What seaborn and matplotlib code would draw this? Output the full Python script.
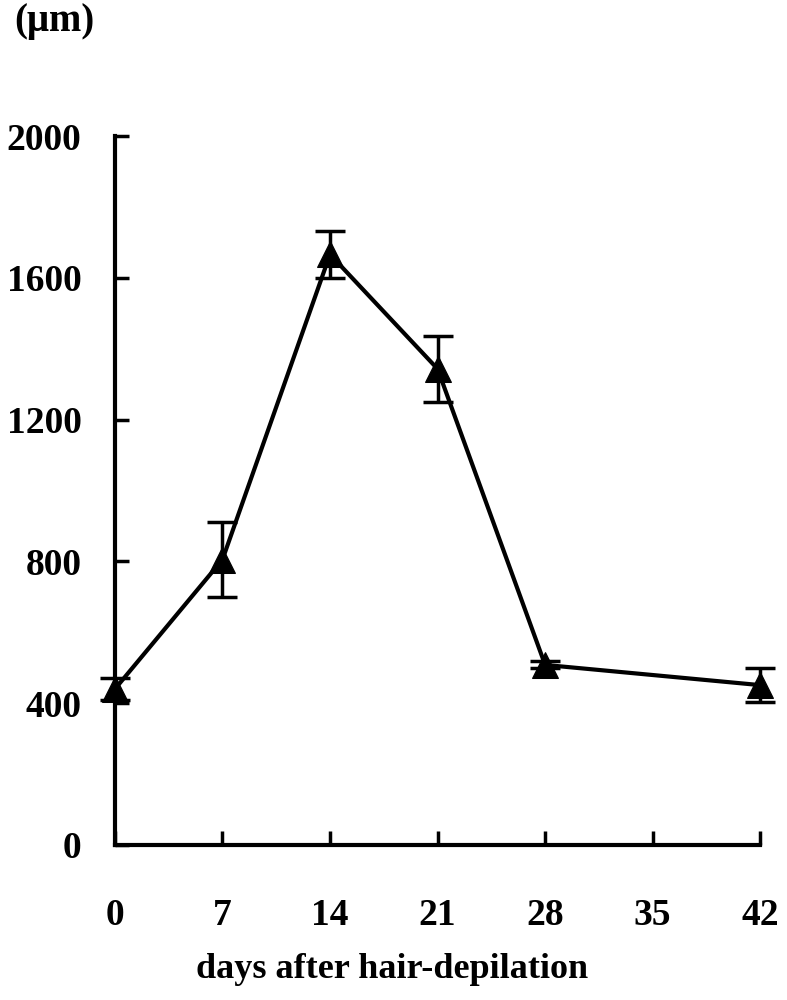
import matplotlib
matplotlib.use("Agg")
import matplotlib.pyplot as plt
import seaborn as sns
import pandas as pd

days = [0, 7, 14, 21, 28, 42]
length_um = [440, 805, 1666, 1343, 508, 451]
err_um = [30, 106, 66, 93, 10, 48]
x_ticks = [0, 7, 14, 21, 28, 35, 42]
y_ticks = [0, 400, 800, 1200, 1600, 2000]

sns.set_theme(style="ticks")
plt.rcParams['font.family'] = ['Liberation Serif', 'DejaVu Serif']
plt.rcParams['font.weight'] = 'bold'
for k in ['text.color', 'axes.labelcolor', 'xtick.color', 'ytick.color', 'axes.edgecolor']:
    plt.rcParams[k] = 'black'

df = pd.DataFrame({"day": days, "length": length_um, "err": err_um})

fig = plt.figure(figsize=(7.87, 10), dpi=100)
ax = fig.add_axes([0.146, 0.155, 0.82, 0.709])

ax.errorbar(df["day"], df["length"], yerr=df["err"], fmt="none", ecolor="black",
            elinewidth=2.5, capsize=11, capthick=2.5, zorder=2, clip_on=False)
sns.lineplot(data=df, x="day", y="length", ax=ax, color="black", linewidth=3,
             marker="^", markersize=19, markeredgecolor="black", zorder=3, clip_on=False)

ax.set_xlim(0, 42)
ax.set_ylim(0, 2000)
ax.set_xticks(x_ticks)
ax.set_yticks(y_ticks)
ax.set_xticklabels([str(t) for t in x_ticks], fontsize=27, fontweight='bold')
ax.set_yticklabels([str(t) for t in y_ticks], fontsize=27, fontweight='bold')
ax.tick_params(axis='both', direction='in', length=10, width=2.5, color='black')
ax.tick_params(axis='x', pad=38)
ax.tick_params(axis='y', pad=24)
for s in ['top', 'right']:
    ax.spines[s].set_visible(False)
for s in ['left', 'bottom']:
    ax.spines[s].set_linewidth(3)
ax.set_xlabel("days after hair-depilation", fontsize=26, fontweight='bold')
ax.xaxis.set_label_coords(0.43, -0.152)
ax.set_ylabel("")
fig.text(0.018, 0.978, "(μm)", fontsize=28, fontweight='bold', ha='left', va='center')

fig.savefig("out.png", dpi=100)
